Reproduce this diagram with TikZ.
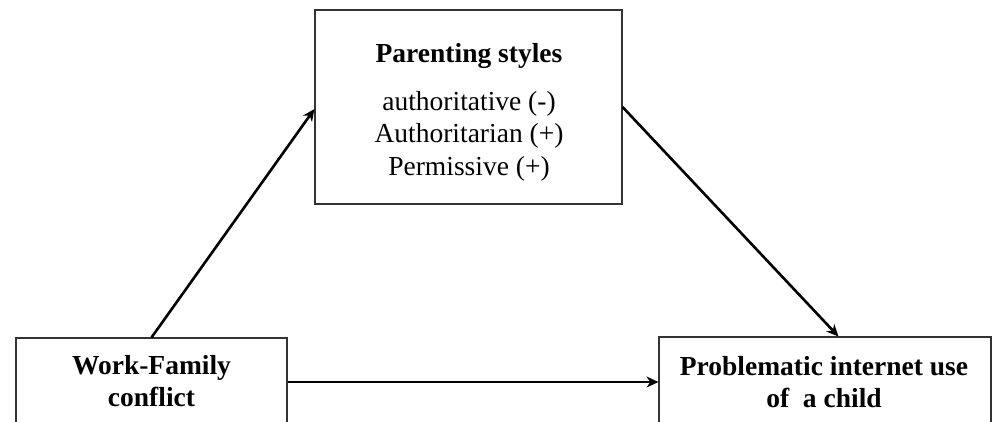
\documentclass[tikz,border=0pt]{standalone}
\usepackage{fontspec}
\setmainfont{Liberation Serif}
\usetikzlibrary{arrows.meta,calc}
\begin{document}
\begin{tikzpicture}[x=1pt,y=-1pt,
  box/.style={draw=black!80,line width=1.1pt,inner sep=0pt,fill=none},
  txt/.style={inner sep=0pt,anchor=base,font=\fontsize{27.5}{32}\selectfont},
  btxt/.style={txt,font=\fontsize{27.5}{32}\selectfont\bfseries},
  arr/.style={line width=2.6pt,-{Stealth[length=12pt,width=11pt]}}]
\useasboundingbox (0,0) rectangle (992,421);
% boxes
\node[box,minimum width=307pt,minimum height=194pt] (ps) at (468.5,107) {};
\node[box,minimum width=271pt,minimum height=88pt] (wf) at (151.5,382) {};
\node[box,minimum width=332pt,minimum height=90pt] (piu) at (825,382) {};
% texts
\node[btxt] (t1) at (469,62) {Parenting styles};
\node[txt] (t2) at (469,110) {authoritative (-)};
\node[txt] (t3) at (469,142) {Authoritarian (+)};
\node[txt] (t4) at (469,175) {Permissive (+)};
\node[btxt] (t5) at (151.5,374) {Work-Family};
\node[btxt] (t6) at (151.5,406) {conflict};
\node[btxt] (t7) at (824,375) {Problematic internet use};
\node[btxt] (t8) at (824,407) {of\ \ a child};
% arrows
\coordinate (pstip) at ($(ps.west)+(0,2)$);
\coordinate (piutip) at ($(piu.north west)+(180,0)$);
\draw[arr] (wf.north) -- (pstip);
\draw[arr] (ps.east) -- (piutip);
\draw[arr] (wf.east) -- (piu.west);
\end{tikzpicture}
\end{document}
